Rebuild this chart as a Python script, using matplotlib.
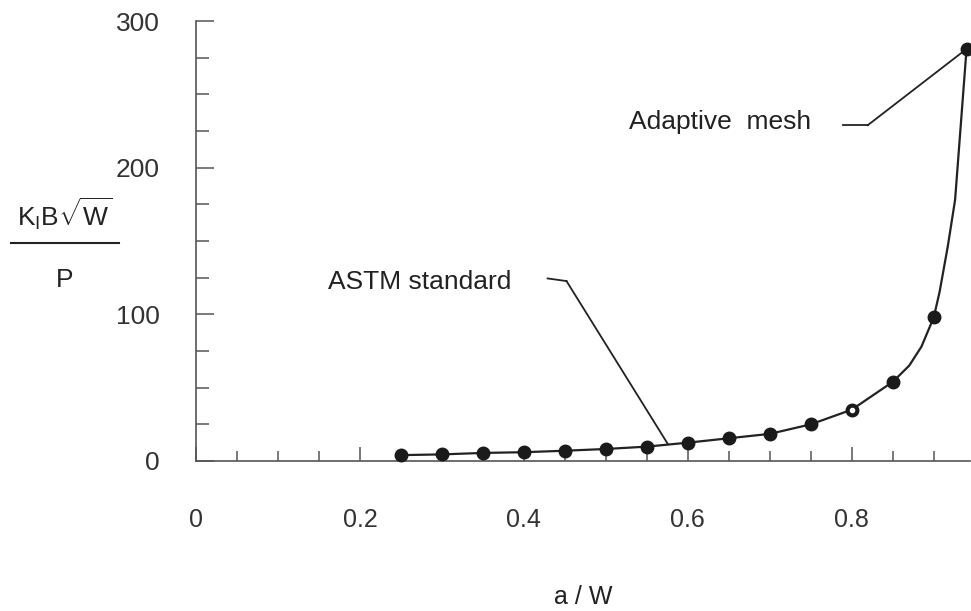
import matplotlib
matplotlib.use("Agg")
import matplotlib.pyplot as plt
from matplotlib.ticker import MultipleLocator
from matplotlib.lines import Line2D

plt.rcParams["font.family"] = ["Liberation Sans", "DejaVu Sans"]
plt.rcParams["mathtext.fontset"] = "custom"
plt.rcParams["mathtext.rm"] = "Liberation Sans"
plt.rcParams["mathtext.it"] = "Liberation Sans"

# adaptive mesh results (points)
mesh_x = [0.25, 0.30, 0.35, 0.40, 0.45, 0.50, 0.55, 0.60, 0.65, 0.70, 0.75, 0.80, 0.85, 0.90, 0.94]
mesh_y = [4, 4.5, 5.5, 6, 7, 8.2, 9.8, 12.5, 15.5, 18.5, 25, 35, 54, 98, 281]

# ASTM standard curve (line)
astm_x = [0.25, 0.30, 0.35, 0.40, 0.45, 0.50, 0.55, 0.60, 0.65, 0.70, 0.75, 0.80, 0.85, 0.87, 0.885, 0.90, 0.907, 0.917, 0.926, 0.94]
astm_y = [4, 4.5, 5.5, 6, 7, 8.2, 9.8, 12.5, 15.5, 18.5, 25, 35, 54, 65, 78, 98, 115, 146, 178, 281]

fig = plt.figure(figsize=(9.71, 6.11), dpi=100)
ax = fig.add_axes([0.2018, 0.2455, 0.797, 0.72])

ax.plot(astm_x, astm_y, color="#222222", lw=1.6, clip_on=False, zorder=2)
ax.plot(mesh_x, mesh_y, "o", color="#1a1a1a", ms=9, clip_on=False, zorder=3)
# hollow centre on the 0.8 point
ax.plot(mesh_x[11], mesh_y[11], "o", color="white", ms=3, zorder=4)

ax.set_xlim(0, 0.944)
ax.set_ylim(0, 300)

for s in ["top", "right"]:
    ax.spines[s].set_visible(False)
for s in ["left", "bottom"]:
    ax.spines[s].set_color("#555555")
    ax.spines[s].set_linewidth(1.2)

ax.xaxis.set_minor_locator(MultipleLocator(0.05))
ax.yaxis.set_minor_locator(MultipleLocator(25))
ax.set_xticks([0, 0.2, 0.4, 0.6, 0.8])
ax.set_xticklabels(["0", "0.2", "0.4", "0.6", "0.8"])
ax.set_yticks([0, 100, 200, 300])
ax.set_yticklabels(["0", "100", "200", "300"])

ax.tick_params(axis="x", which="major", direction="in", length=10, width=1.1,
               color="#555555", labelsize=18, labelcolor="#333333", pad=34)
ax.tick_params(axis="x", which="minor", direction="in", length=7, width=1.1, color="#555555")
ax.tick_params(axis="y", which="major", direction="in", length=13, width=1.1,
               color="#555555", labelsize=19, labelcolor="#333333", pad=26)
ax.tick_params(axis="y", which="minor", direction="in", length=9, width=1.1, color="#555555")

ax.set_xlabel("a / W", fontsize=18, color="#222222", va="center")
ax.xaxis.set_label_coords(0.5, -0.309)

# y label as a fraction
fig.text(65 / 971, 1 - 214 / 611, r"K$_\mathregular{I}$B$\sqrt{\mathregular{W}}$",
         fontsize=19, ha="center", va="center", color="#222222")
fig.add_artist(Line2D([11 / 971, 119 / 971], [1 - 243 / 611, 1 - 243 / 611],
                      transform=fig.transFigure, color="#222222", lw=1.5))
fig.text(65 / 971, 1 - 280 / 611, "P", fontsize=19, ha="center", va="center", color="#222222")

# annotations
ax.text(0.161, 122, "ASTM standard", fontsize=19, ha="left", va="center", color="#222222")
ax.plot([0.429, 0.452], [124.5, 122.7], color="#222222", lw=1.3)
ax.plot([0.452, 0.5756], [122.7, 11.6], color="#222222", lw=1.3)

ax.text(0.528, 231, "Adaptive  mesh", fontsize=19, ha="left", va="center", color="#222222")
ax.plot([0.789, 0.8195], [229, 229], color="#222222", lw=1.3)
ax.plot([0.8195, 0.94], [229, 281], color="#222222", lw=1.3, clip_on=False)

fig.savefig("out.png", dpi=100)
